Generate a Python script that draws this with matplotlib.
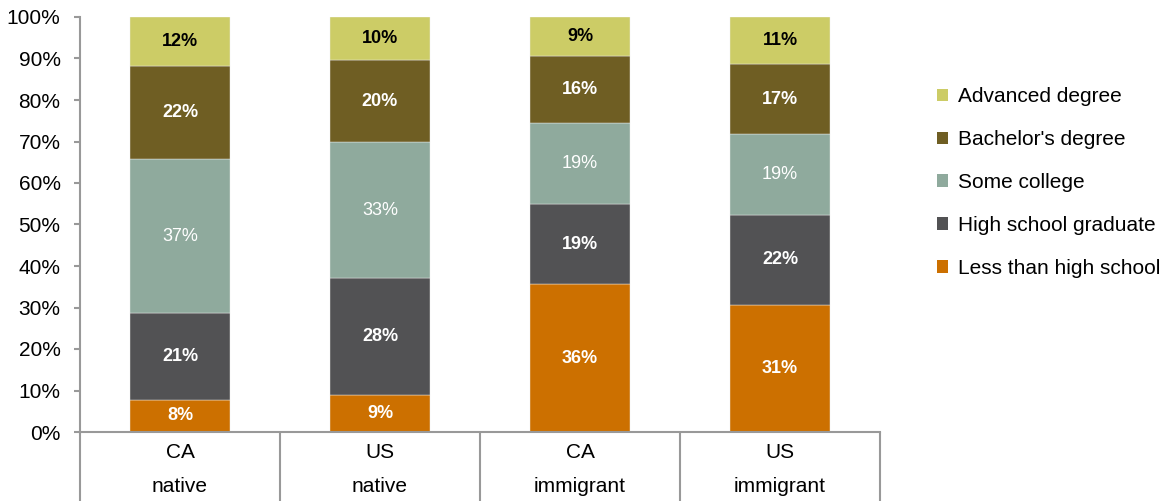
import matplotlib
matplotlib.use("Agg")
import matplotlib.pyplot as plt
from matplotlib.patches import Patch
import numpy as np

plt.rcParams['font.family'] = ['Liberation Sans', 'DejaVu Sans']

categories = ["CA\nnative", "US\nnative", "CA\nimmigrant", "US\nimmigrant"]
series_names = ["Less than high school", "High school graduate", "Some college",
                "Bachelor's degree", "Advanced degree"]
less_hs = [7.8, 9.0, 35.6, 30.6]
hs_grad = [20.8, 28.0, 19.4, 21.8]
some_college = [37.2, 32.9, 19.4, 19.4]
bachelor = [22.3, 19.7, 16.2, 16.8]
advanced = [11.9, 10.4, 9.4, 11.4]
yticks = [0, 10, 20, 30, 40, 50, 60, 70, 80, 90, 100]

series = [less_hs, hs_grad, some_college, bachelor, advanced]
colors = ["#CC7000", "#525254", "#8FAA9D", "#6F5E23", "#CCCC66"]
label_colors = ["white", "white", "white", "white", "black"]
label_weights = ["bold", "bold", "normal", "bold", "bold"]

W, H = 1168, 501
fig = plt.figure(figsize=(W / 100, H / 100), dpi=100)
ax = fig.add_axes([80 / W, (H - 432) / H, 800 / W, (432 - 17) / H])

x = np.arange(len(categories))
bottom = np.zeros(len(categories))
for vals, c, lc, lw in zip(series, colors, label_colors, label_weights):
    vals = np.array(vals)
    ax.bar(x, vals, width=0.5, bottom=bottom, color=c, edgecolor="#eeeeee",
           linewidth=0.3, zorder=2)
    for xi, b, v in zip(x, bottom, vals):
        ax.text(xi, b + v / 2, f"{round(v)}%", ha="center", va="center",
                color=lc, fontsize=13, fontweight=lw, zorder=3)
    bottom += vals

ax.set_xlim(-0.5, len(categories) - 0.5)
ax.set_ylim(0, 100)
ax.set_yticks(yticks)
ax.set_yticklabels([f"{t}%" for t in yticks])

ax.set_xticks(x)
ax.set_xticklabels(categories)
ax.set_xticks(np.arange(len(categories) + 1) - 0.5, minor=True)

for s in ["top", "right"]:
    ax.spines[s].set_visible(False)
for s in ["left", "bottom"]:
    ax.spines[s].set_color("#999999")
    ax.spines[s].set_linewidth(1.5)

ax.tick_params(axis="y", direction="out", length=4, width=1.5, color="#999999",
               labelsize=15, pad=10, labelcolor="black")
ax.tick_params(axis="x", which="major", length=0, labelsize=15, pad=8,
               labelcolor="black")
ax.tick_params(axis="x", which="minor", direction="out", length=52, width=1.5,
               color="#999999")
plt.setp(ax.get_xticklabels(), linespacing=2.0)

handles = [Patch(facecolor=c, edgecolor="none") for c in colors[::-1]]
fig.legend(handles, series_names[::-1], loc="center left",
           bbox_to_anchor=(937 / W, 1 - 182.5 / H), frameon=False,
           fontsize=15, handlelength=0.53, handleheight=0.53,
           handletextpad=0.48, labelspacing=1.15, borderpad=0, borderaxespad=0)

fig.savefig("out.png", dpi=100)
